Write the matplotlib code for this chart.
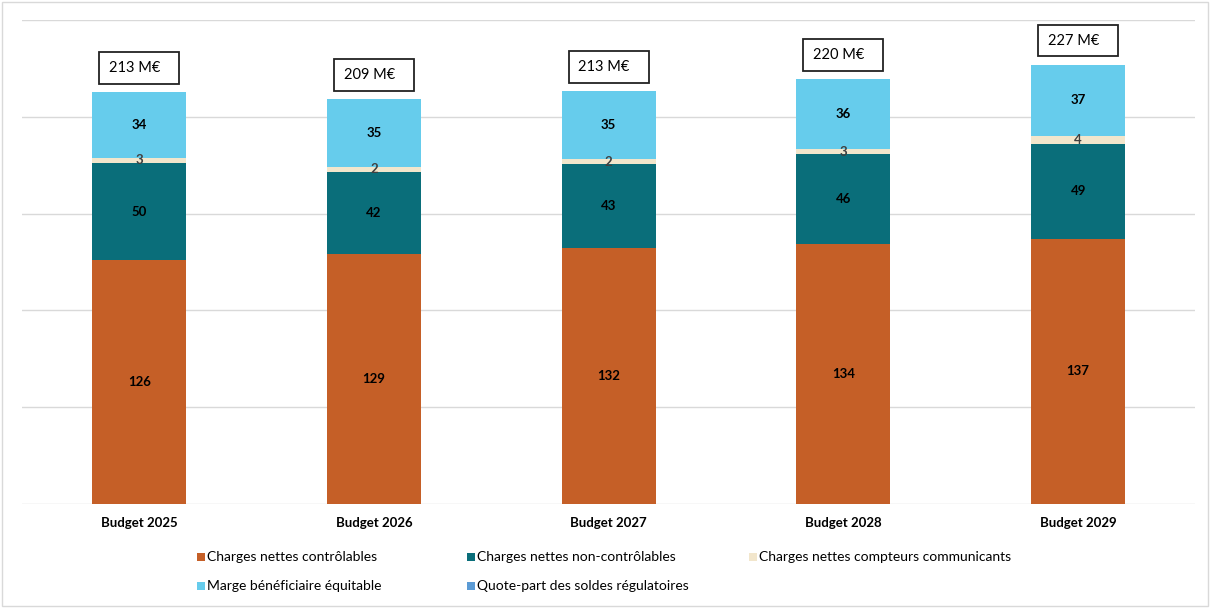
import numpy as np
import matplotlib.pyplot as plt
from matplotlib.patches import Rectangle

plt.rcParams['font.family'] = ['Lato', 'DejaVu Sans']

categories = ["Budget 2025", "Budget 2026", "Budget 2027", "Budget 2028", "Budget 2029"]
controlables = [126.0, 129.3, 132.4, 134.4, 137.0]
non_controlables = [50.0, 42.4, 43.3, 46.3, 49.0]
compteurs = [3.0, 2.4, 2.4, 2.6, 4.0]
marge = [34.0, 35.3, 35.2, 36.3, 37.0]
soldes = [0.0, 0.0, 0.0, 0.0, 0.0]

series = [
    ("Charges nettes contrôlables", controlables, "#C55F27", "black"),
    ("Charges nettes non-contrôlables", non_controlables, "#0A6E7A", "black"),
    ("Charges nettes compteurs communicants", compteurs, "#F2E6CC", "#404040"),
    ("Marge bénéficiaire équitable", marge, "#66CCEC", "black"),
    ("Quote-part des soldes régulatoires", soldes, "#5B9BD5", "black"),
]

W, H = 1210, 608
fig = plt.figure(figsize=(W / 100, H / 100), dpi=100)
ax = fig.add_axes([0.018, 0.171, 0.97, 0.796])

x = np.arange(len(categories))
bottom = np.zeros(len(categories))
for name, vals, color, txt_color in series:
    vals = np.array(vals)
    ax.bar(x, vals, 0.4, bottom=bottom, color=color, zorder=2)
    for xi, b, v in zip(x, bottom, vals):
        if v > 0:
            ax.text(xi, b + v / 2, f"{v:.0f}", ha="center", va="center",
                    fontsize=9.5, fontweight="bold", color=txt_color, zorder=3)
    bottom += vals

# total boxes above each stack
for xi, total in zip(x, bottom):
    ax.add_patch(Rectangle((xi - 0.17, total + 4.2), 0.34, 16.5, facecolor="white",
                           edgecolor="#222222", lw=1.3, zorder=3))
    ax.text(xi - 0.02, total + 12.4, f"{total:.0f} M€", ha="center", va="center",
            fontsize=10.5, zorder=4)

ax.set_xlim(-0.5, len(categories) - 0.5)
ax.set_ylim(0, 250)
ax.set_yticks(np.arange(0, 251, 50))
ax.set_yticklabels([])
ax.tick_params(length=0)
ax.grid(axis="y", color="#D9D9D9", lw=1, zorder=0)
for s in ax.spines.values():
    s.set_visible(False)
ax.set_xticks(x)
ax.set_xticklabels(categories, fontsize=9.5, fontweight="bold")
ax.tick_params(axis="x", pad=9)

# legend laid out by hand: 3 columns, 2 rows
col_px = [197, 467, 749]
row_px = [557, 586]
for k, (name, vals, color, _) in enumerate(series):
    cx = col_px[k % 3]
    cy = row_px[k // 3]
    fig.patches.append(Rectangle((cx / W, (H - cy - 4) / H), 8 / W, 8 / H,
                                 transform=fig.transFigure, facecolor=color,
                                 edgecolor="none"))
    fig.text((cx + 10) / W, (H - cy) / H, name, ha="left", va="center", fontsize=10)

fig.patches.append(Rectangle((0.002, 0.003), 0.996, 0.994, transform=fig.transFigure,
                             fill=False, edgecolor="#D9D9D9", lw=1))

fig.savefig("out.png", dpi=100)
